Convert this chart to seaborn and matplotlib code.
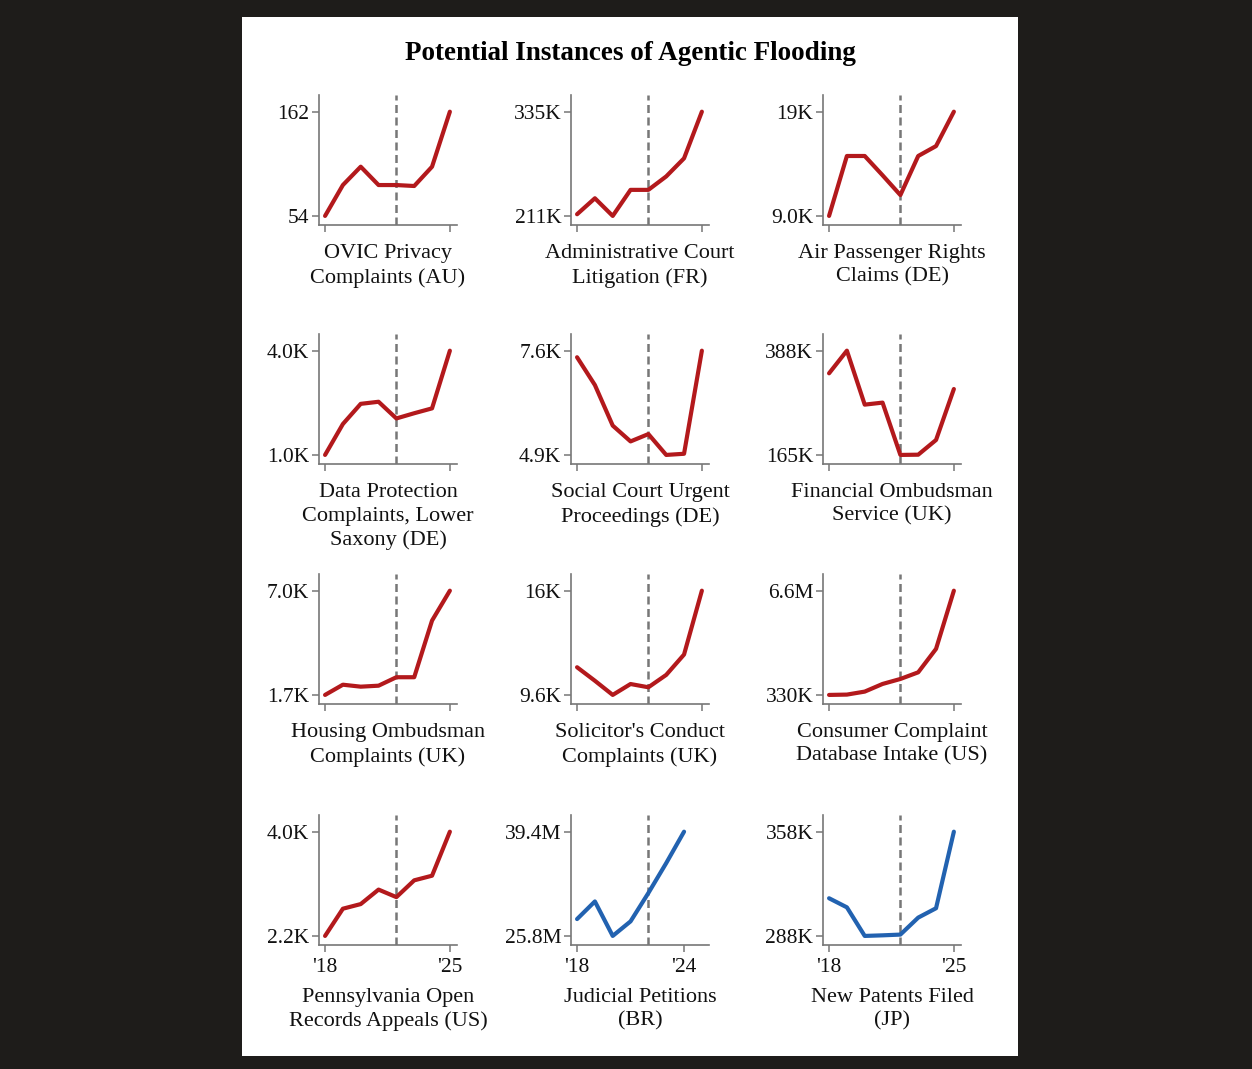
import numpy as np
import pandas as pd
import matplotlib
matplotlib.use('Agg')
import matplotlib.pyplot as plt
import seaborn as sns

sns.set_theme(style='ticks')
plt.rcParams['font.family'] = ['Liberation Serif', 'DejaVu Serif']

# dados
years = [2018, 2019, 2020, 2021, 2022, 2023, 2024, 2025]
years_br = [2018, 2019, 2020, 2021, 2022, 2023, 2024]

ovic_au = [54, 86, 105, 86, 86, 85, 105, 162]
admin_court_fr = [213000, 232000, 211000, 242000, 242000, 258000, 279500, 335000]
air_passenger_de = [9000, 14750, 14750, 12900, 11000, 14750, 15700, 19000]
data_protection_de = [1000, 1890, 2470, 2530, 2050, 2200, 2340, 4000]
social_court_de = [7430, 6710, 5660, 5250, 5440, 4900, 4930, 7600]
fin_ombudsman_uk = [339600, 388000, 272600, 276900, 165000, 165500, 197000, 306000]
housing_uk = [1700, 2220, 2120, 2170, 2600, 2600, 5480, 7000]
solicitor_uk = [11300, 10470, 9600, 10270, 10070, 10830, 12080, 16000]
consumer_us = [330000, 350000, 530000, 990000, 1290000, 1690000, 3100000, 6600000]
penn_us = [2200, 2670, 2750, 3000, 2870, 3160, 3240, 4000]
judicial_br = [28.0e6, 30.3e6, 25.8e6, 27.7e6, 31.4e6, 35.3e6, 39.4e6]
patents_jp = [313300, 307200, 288000, 288400, 288900, 300300, 306600, 358000]

titles = [
    'OVIC Privacy\nComplaints (AU)', 'Administrative Court\nLitigation (FR)',
    'Air Passenger Rights\nClaims (DE)', 'Data Protection\nComplaints, Lower\nSaxony (DE)',
    'Social Court Urgent\nProceedings (DE)', 'Financial Ombudsman\nService (UK)',
    'Housing Ombudsman\nComplaints (UK)', "Solicitor's Conduct\nComplaints (UK)",
    'Consumer Complaint\nDatabase Intake (US)', 'Pennsylvania Open\nRecords Appeals (US)',
    'Judicial Petitions\n(BR)', 'New Patents Filed\n(JP)',
]
series = [ovic_au, admin_court_fr, air_passenger_de, data_protection_de, social_court_de,
          fin_ombudsman_uk, housing_uk, solicitor_uk, consumer_us, penn_us,
          judicial_br, patents_jp]
ytick_labels = [
    ('54', '162'), ('211K', '335K'), ('9.0K', '19K'), ('1.0K', '4.0K'),
    ('4.9K', '7.6K'), ('165K', '388K'), ('1.7K', '7.0K'), ('9.6K', '16K'),
    ('330K', '6.6M'), ('2.2K', '4.0K'), ('25.8M', '39.4M'), ('288K', '358K'),
]
xtick_labels_bottom = [("'18", "'25"), ("'18", "'24"), ("'18", "'25")]

RED = '#b3191c'
BLUE = '#2262b0'
GREY = '#777777'

W, H = 1252, 1069
fig = plt.figure(figsize=(W / 100, H / 100), dpi=100, facecolor='#1e1c1a')
fig.patches.append(plt.Rectangle((242 / W, 1 - 1056 / H), (1018 - 242) / W, (1056 - 17) / H,
                                 transform=fig.transFigure, facecolor='white',
                                 edgecolor='none', zorder=-10))
fig.text(630 / W, 1 - 54 / H, 'Potential Instances of Agentic Flooding',
         ha='center', va='center', fontsize=19.5, fontweight='bold', color='black')

col_left = [319, 571, 823]
row_bottom = [225, 464, 704, 945]
ax_w, ax_h = 138, 130

for i, (vals, title) in enumerate(zip(series, titles)):
    r, c = divmod(i, 3)
    ax = fig.add_axes([col_left[c] / W, 1 - row_bottom[r] / H, ax_w / W, ax_h / H])
    ax.set_facecolor('white')
    x = years_br if len(vals) == 7 else years
    df = pd.DataFrame({'ano': x, 'valor': vals})
    color = BLUE if i >= 10 else RED
    sns.lineplot(data=df, x='ano', y='valor', ax=ax, color=color, linewidth=3.0,
                 solid_capstyle='round')
    ax.axvline(2022, color=GREY, linestyle=(0, (3.2, 1.8)), linewidth=1.8, zorder=1)

    lo, hi = min(vals), max(vals)
    rng = hi - lo
    ax.set_ylim(lo - 0.087 * rng, hi + 0.16 * rng)
    ax.set_xlim(2017.66, 2025.4)
    ax.set_yticks([lo, hi])
    ax.set_yticklabels(ytick_labels[i])
    ax.set_xticks([2018, x[-1]])
    if r == 3:
        ax.set_xticklabels(xtick_labels_bottom[c])
    else:
        ax.set_xticklabels(['', ''])
    ax.set_ylabel('')
    ax.set_xlabel(title, fontsize=16, color='#111111', labelpad=8 if r == 3 else 5,
                  linespacing=1.3)
    for s in ['top', 'right']:
        ax.spines[s].set_visible(False)
    for s in ['left', 'bottom']:
        ax.spines[s].set_color(GREY)
        ax.spines[s].set_linewidth(1.2)
    ax.tick_params(axis='both', length=5, width=1.1, color=GREY, labelsize=15.5,
                   labelcolor='#111111', pad=2)
    ax.tick_params(axis='x', pad=4)

fig.savefig('out.png', dpi=100, facecolor=fig.get_facecolor())
